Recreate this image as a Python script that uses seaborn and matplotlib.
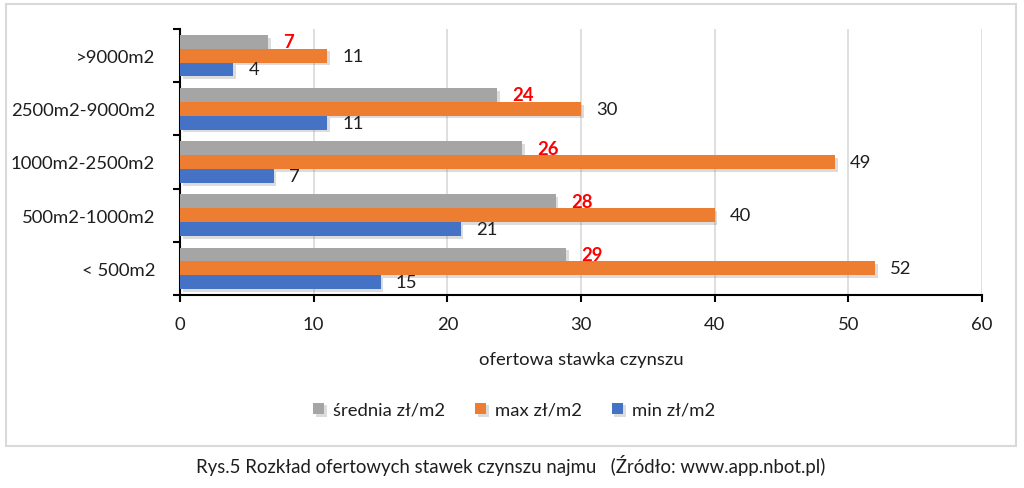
import numpy as np
import pandas as pd
import matplotlib
matplotlib.use("Agg")
import matplotlib.pyplot as plt
import matplotlib.patheffects as pe
from matplotlib.patches import Rectangle
import seaborn as sns

categories = [">9000m2", "2500m2-9000m2", "1000m2-2500m2", "500m2-1000m2", "< 500m2"]
avg_vals = [6.6, 23.7, 25.6, 28.1, 28.9]
max_vals = [11, 30, 49, 40, 52]
min_vals = [4, 11, 7, 21, 15]
series_names = ["średnia zł/m2", "max zł/m2", "min zł/m2"]
colors = ["#A5A5A5", "#ED7D31", "#4472C4"]
xlabel = "ofertowa stawka czynszu"
caption = "Rys.5 Rozkład ofertowych stawek czynszu najmu   (Źródło: www.app.nbot.pl)"

df = pd.DataFrame({
    "cat": categories * 3,
    "val": avg_vals + max_vals + min_vals,
    "series": [series_names[0]] * 5 + [series_names[1]] * 5 + [series_names[2]] * 5,
})

sns.set_theme(style="white")
plt.rcParams["font.family"] = ["Lato", "DejaVu Sans"]
FS = 13.3
TXT = "#1E1E1E"

fig = plt.figure(figsize=(10.24, 4.89), dpi=100)
ax = fig.add_axes([180 / 1024, 1 - 296 / 489, (982 - 180) / 1024, (296 - 30) / 489])

sns.barplot(data=df, y="cat", x="val", hue="series", order=categories,
            hue_order=series_names, palette=colors, orient="h",
            width=0.78, saturation=1, ax=ax, legend=True, zorder=3)

shadow = [pe.SimplePatchShadow(offset=(2, -2), shadow_rgbFace="#8C8C8C", alpha=0.3), pe.Normal()]
for p in ax.patches:
    p.set_path_effects(shadow)
    p.set_linewidth(0)

for i, cont in enumerate(ax.containers):
    if i == 0:
        ax.bar_label(cont, fmt="%.0f", padding=11, color="#FF0000", fontweight="bold", fontsize=FS)
    else:
        ax.bar_label(cont, fmt="%.0f", padding=11, color=TXT, fontsize=FS)

ax.set_xlim(0, 60)
ax.set_ylim(4.5, -0.5)
ax.set_xticks(np.arange(0, 61, 10))
ax.grid(axis="x", color="#D9D9D9", linewidth=1.2, zorder=0)
ax.set_axisbelow(True)
for s in ["top", "right"]:
    ax.spines[s].set_visible(False)
for s in ["left", "bottom"]:
    ax.spines[s].set_color("black")
    ax.spines[s].set_linewidth(1.5)
ax.set_yticks(np.arange(-0.5, 5, 1), minor=True)
ax.tick_params(axis="y", which="major", length=0, pad=18, labelsize=FS, labelcolor=TXT)
ax.tick_params(axis="y", which="minor", length=5, width=1.5, color="black", direction="out", left=True)
ax.tick_params(axis="x", which="major", length=5, width=1.5, color="black", direction="out", bottom=True,
               labelsize=FS, labelcolor=TXT, pad=10)
ax.set_ylabel("")
ax.set_xlabel(xlabel, fontsize=FS, color=TXT, labelpad=14)

leg = ax.get_legend()
handles, labels = ax.get_legend_handles_labels()
leg.remove()
fig.legend(handles, labels, loc="center", bbox_to_anchor=(514 / 1024, 1 - 411 / 489), ncol=3,
           frameon=False, fontsize=FS, handlelength=0.6, handleheight=0.6, columnspacing=1.6,
           handletextpad=0.5, labelcolor=TXT)

fig.patches.append(Rectangle((6 / 1024, 1 - 447 / 489), (1016 - 6) / 1024, (447 - 5) / 489,
                             transform=fig.transFigure, fill=False, edgecolor="#D9D9D9", linewidth=1.5))
fig.text(511 / 1024, 1 - 466 / 489, caption, ha="center", va="center", fontsize=13.4, color=TXT)

fig.savefig("out.png", dpi=100, facecolor="white")
